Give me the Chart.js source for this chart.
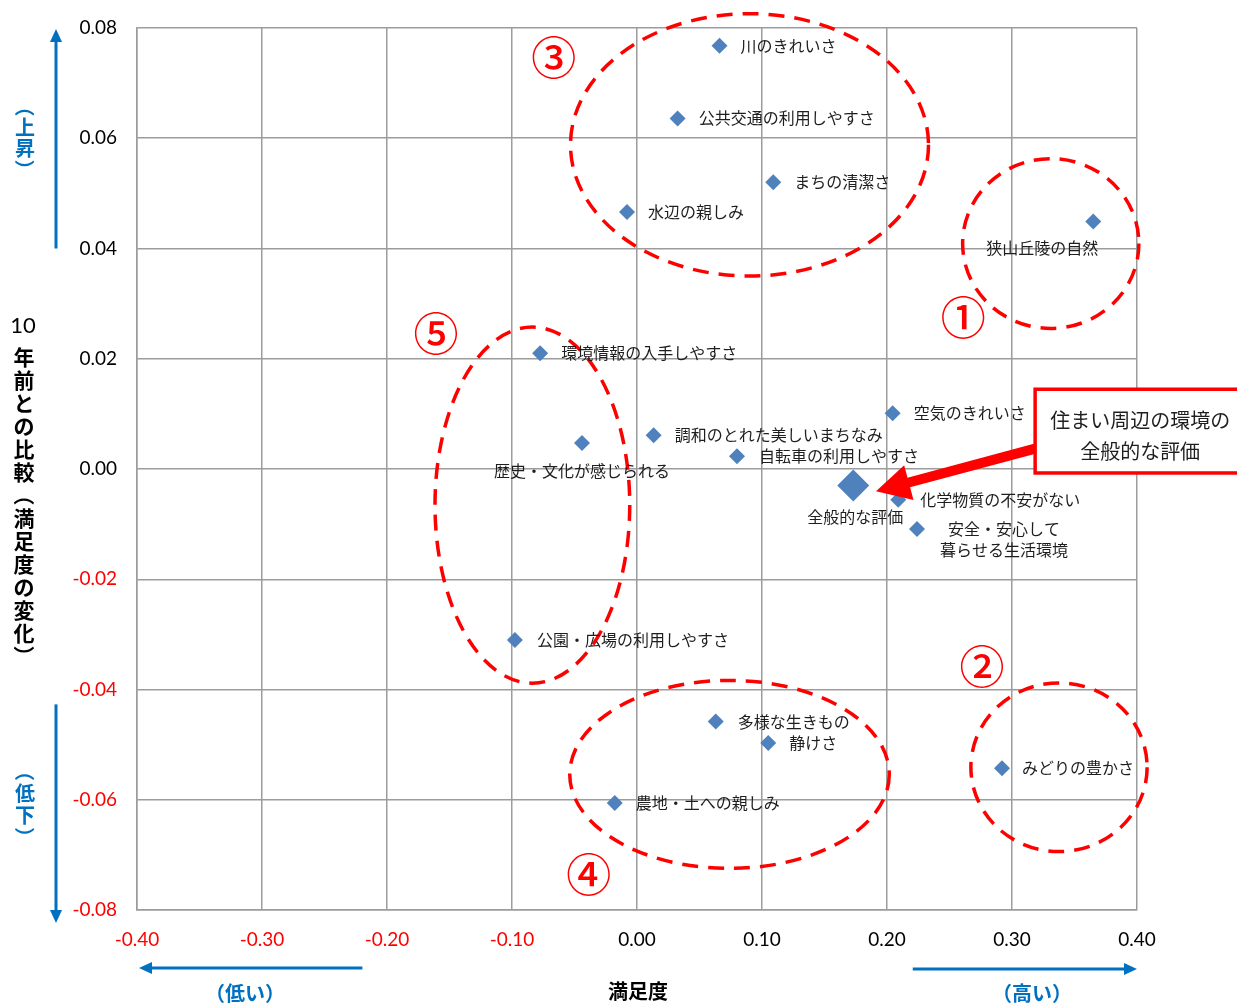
<!DOCTYPE html>
<html>
<head>
<meta charset="utf-8">
<script src="https://cdn.jsdelivr.net/npm/chart.js@4.4.1/dist/chart.umd.min.js"></script>
<style>
  html, body { margin: 0; padding: 0; background: #ffffff; }
  #wrap { width: 1237px; height: 1005px; position: relative; }
</style>
</head>
<body>
<div id="wrap"><canvas id="chart" width="1237" height="1005"></canvas></div>
<script>
// 環境項目ごとの満足度（x）と10年前との比較（y）
const itemNames = [
  '川のきれいさ',
  '公共交通の利用しやすさ',
  'まちの清潔さ',
  '水辺の親しみ',
  '狭山丘陵の自然',
  '環境情報の入手しやすさ',
  '空気のきれいさ',
  '調和のとれた美しいまちなみ',
  '歴史・文化が感じられる',
  '自転車の利用しやすさ',
  '化学物質の不安がない',
  '安全・安心して\n暮らせる生活環境',
  '公園・広場の利用しやすさ',
  '多様な生きもの',
  '静けさ',
  '農地・土への親しみ',
  'みどりの豊かさ'
];
const satisfaction = [
  0.066, 0.0325, 0.109, -0.008, 0.365, -0.0775, 0.2045, 0.0133, -0.044,
  0.080, 0.209, 0.224, -0.0977, 0.063, 0.105, -0.0178, 0.292
];
const changeVs10y = [
  0.0768, 0.0636, 0.052, 0.0466, 0.0449, 0.021, 0.0101, 0.0061, 0.0047,
  0.0023, -0.0056, -0.0109, -0.031, -0.0458, -0.0497, -0.0606, -0.0543
];

// 住まい周辺の環境の全般的な評価
const overallName = '全般的な評価';
const overallSatisfaction = [0.173];
const overallChange = [-0.003];

// 軸の目盛
const xTickLabels = ['-0.40', '-0.30', '-0.20', '-0.10', '0.00', '0.10', '0.20', '0.30', '0.40'];
const yTickLabels = ['-0.08', '-0.06', '-0.04', '-0.02', '0.00', '0.02', '0.04', '0.06', '0.08'];

// グループ番号と囲み（データ単位）
const groupMarks = ['①', '②', '③', '④', '⑤'];
const groupMarkX = [0.261, 0.276, -0.0665, -0.0386, -0.1608];
const groupMarkY = [0.0275, -0.0359, 0.0745, -0.0736, 0.0245];
const groupCenterX = [0.331, 0.3376, 0.090, 0.074, -0.0837];
const groupCenterY = [0.0409, -0.0541, 0.0588, -0.0554, -0.00655];
const groupRadiusX = [0.0705, 0.0705, 0.1432, 0.1278, 0.0779];
const groupRadiusY = [0.0154, 0.0153, 0.0238, 0.01705, 0.0323];

// ラベルの配置（点からのずれ, px）
const labelLayout = [
  { dx: 21, dy: 0, align: 'left' },
  { dx: 21, dy: 0, align: 'left' },
  { dx: 21, dy: 0, align: 'left' },
  { dx: 21, dy: 0, align: 'left' },
  { dx: -51, dy: 26, align: 'center' },
  { dx: 21, dy: 0, align: 'left' },
  { dx: 21, dy: 0, align: 'left' },
  { dx: 21, dy: 0, align: 'left' },
  { dx: 0, dy: 28, align: 'center' },
  { dx: 22, dy: 0, align: 'left' },
  { dx: 22, dy: 0, align: 'left' },
  { dx: 87, dy: 0, align: 'center' },
  { dx: 22, dy: 0, align: 'left' },
  { dx: 22, dy: 0, align: 'left' },
  { dx: 21, dy: 0, align: 'left' },
  { dx: 21, dy: 0, align: 'left' },
  { dx: 20, dy: 0, align: 'left' }
];
const overallLabelLayout = { dx: 2, dy: 31, align: 'center' };

const BLUE_MARK = '#4f81bd';
const AXIS_BLUE = '#0070c0';
const RED = '#ff0000';
const GRID = '#9c9c9c';
const JP = '"Noto Sans CJK JP", "Noto Sans", sans-serif';
const NUM = 'Lato, "Liberation Sans", sans-serif';

function drawArrow(ctx, x1, y1, x2, y2, width, headLen, headHalf, color) {
  const dx = x2 - x1, dy = y2 - y1;
  const len = Math.hypot(dx, dy);
  const ux = dx / len, uy = dy / len;
  const bx = x2 - ux * headLen, by = y2 - uy * headLen;
  ctx.save();
  ctx.strokeStyle = color;
  ctx.fillStyle = color;
  ctx.lineWidth = width;
  ctx.lineCap = 'butt';
  ctx.beginPath();
  ctx.moveTo(x1, y1);
  ctx.lineTo(bx + ux * 1, by + uy * 1);
  ctx.stroke();
  ctx.beginPath();
  ctx.moveTo(x2, y2);
  ctx.lineTo(bx - uy * headHalf, by + ux * headHalf);
  ctx.lineTo(bx + uy * headHalf, by - ux * headHalf);
  ctx.closePath();
  ctx.fill();
  ctx.restore();
}

function verticalText(ctx, str, x, yTop, step, font, color) {
  ctx.save();
  ctx.font = font;
  ctx.fillStyle = color;
  ctx.textAlign = 'center';
  ctx.textBaseline = 'middle';
  [...str].forEach((ch, i) => {
    const cy = yTop + step * i + step / 2;
    if (ch === '（' || ch === '）') {
      ctx.save();
      ctx.translate(x, cy);
      ctx.rotate(Math.PI / 2);
      ctx.fillText(ch, 0, 0);
      ctx.restore();
    } else {
      ctx.fillText(ch, x, cy);
    }
  });
  ctx.restore();
}

function drawLabel(ctx, text, px, py, layout) {
  ctx.textAlign = layout.align;
  const lines = text.split('\n');
  lines.forEach((line, i) => {
    ctx.fillText(line, px + layout.dx, py + layout.dy + i * 21);
  });
}

const decorations = {
  id: 'decorations',
  beforeDatasetsDraw(chart) {
    const { ctx, scales: { x, y } } = chart;
    // 点線の囲み
    ctx.save();
    ctx.strokeStyle = RED;
    ctx.lineWidth = 3.5;
    ctx.setLineDash([16, 10]);
    for (let i = 0; i < groupCenterX.length; i++) {
      const cx = x.getPixelForValue(groupCenterX[i]);
      const cy = y.getPixelForValue(groupCenterY[i]);
      const rx = Math.abs(x.getPixelForValue(groupCenterX[i] + groupRadiusX[i]) - cx);
      const ry = Math.abs(y.getPixelForValue(groupCenterY[i] + groupRadiusY[i]) - cy);
      ctx.beginPath();
      ctx.ellipse(cx, cy, rx, ry, 0, 0, Math.PI * 2);
      ctx.stroke();
    }
    ctx.restore();
  },
  afterDatasetsDraw(chart) {
    const { ctx, chartArea: area, scales: { x, y } } = chart;

    // 項目ラベル
    ctx.save();
    ctx.font = '16px ' + JP;
    ctx.fillStyle = '#1e1e1e';
    ctx.textBaseline = 'middle';
    const meta = chart.getDatasetMeta(0);
    meta.data.forEach((pt, i) => drawLabel(ctx, itemNames[i], pt.x, pt.y, labelLayout[i]));
    const om = chart.getDatasetMeta(1);
    om.data.forEach(pt => drawLabel(ctx, overallName, pt.x, pt.y, overallLabelLayout));
    ctx.restore();

    // グループ番号
    ctx.save();
    ctx.font = '500 45px ' + JP;
    ctx.fillStyle = RED;
    ctx.textAlign = 'center';
    ctx.textBaseline = 'middle';
    groupMarks.forEach((m, i) => {
      ctx.fillText(m, x.getPixelForValue(groupMarkX[i]), y.getPixelForValue(groupMarkY[i]));
    });
    ctx.restore();

    // 吹き出し
    const bl = x.getPixelForValue(0.3185);
    const bt = y.getPixelForValue(0.01447);
    const bb = y.getPixelForValue(-0.00072);
    const br = chart.width + 4;
    const tail = { x: bl, y: y.getPixelForValue(0.0037) };
    const tip = { x: x.getPixelForValue(0.1912), y: y.getPixelForValue(-0.00405) };
    drawArrow(ctx, tail.x, tail.y, tip.x, tip.y, 10, 34, 18, RED);
    ctx.save();
    ctx.fillStyle = '#ffffff';
    ctx.strokeStyle = RED;
    ctx.lineWidth = 3.5;
    ctx.fillRect(bl, bt, br - bl, bb - bt);
    ctx.strokeRect(bl, bt, br - bl, bb - bt);
    ctx.font = '20px ' + JP;
    ctx.fillStyle = '#1e1e1e';
    ctx.textAlign = 'center';
    ctx.textBaseline = 'middle';
    ctx.fillText('住まい周辺の環境の', bl + 105, bt + 31);
    ctx.fillText('全般的な評価', bl + 105, bt + 62);
    ctx.restore();

    // 軸の方向を示す矢印
    const ax = area.left - 81;
    drawArrow(ctx, ax, y.getPixelForValue(0.04), ax, area.top + 1, 3, 13, 6, AXIS_BLUE);
    drawArrow(ctx, ax, y.getPixelForValue(-0.0427), ax, area.bottom + 13, 3, 13, 6, AXIS_BLUE);
    const ay = area.bottom + 58;
    drawArrow(ctx, x.getPixelForValue(-0.2197), ay, area.left + 2, ay, 3, 13, 6, AXIS_BLUE);
    drawArrow(ctx, x.getPixelForValue(0.2206), ay + 1, area.right, ay + 1, 3, 13, 6, AXIS_BLUE);

    verticalText(ctx, '（上昇）', 25, 96, 21, 'bold 20px ' + JP, AXIS_BLUE);
    verticalText(ctx, '（低下）', 25, 760, 22, 'bold 20px ' + JP, AXIS_BLUE);

    ctx.save();
    ctx.textAlign = 'center';
    ctx.textBaseline = 'middle';
    ctx.font = 'bold 20px ' + JP;
    ctx.fillStyle = AXIS_BLUE;
    ctx.fillText('（低い）', 245, 993);
    ctx.fillText('（高い）', 1032, 993);
    ctx.fillStyle = '#000000';
    ctx.fillText('満足度', (area.left + area.right) / 2 + 1, 991);
    ctx.font = '22px ' + NUM;
    ctx.fillText('10', 23, 326);
    ctx.restore();

    verticalText(ctx, '年前との比較（満足度の変化）', 24, 345.5, 23, 'bold 21px ' + JP, '#000000');
  }
};

const tickColor = (c) => (c.tick && c.tick.value < -1e-9 ? RED : '#000000');

new Chart(document.getElementById('chart'), {
  type: 'scatter',
  data: {
    datasets: [
      {
        label: '環境項目',
        data: satisfaction.map((v, i) => ({ x: v, y: changeVs10y[i] })),
        pointStyle: 'rectRot',
        pointRadius: 8,
        pointHoverRadius: 8,
        backgroundColor: BLUE_MARK,
        borderColor: BLUE_MARK,
        borderWidth: 0
      },
      {
        label: overallName,
        data: overallSatisfaction.map((v, i) => ({ x: v, y: overallChange[i] })),
        pointStyle: 'rectRot',
        pointRadius: 16,
        pointHoverRadius: 16,
        backgroundColor: BLUE_MARK,
        borderColor: BLUE_MARK,
        borderWidth: 0
      }
    ]
  },
  options: {
    responsive: false,
    animation: false,
    events: [],
    layout: { padding: { top: 28, right: 100, bottom: 0, left: 0 } },
    plugins: {
      legend: { display: false },
      tooltip: { enabled: false }
    },
    scales: {
      x: {
        type: 'linear',
        min: -0.4,
        max: 0.4,
        ticks: {
          stepSize: 0.1,
          padding: 18,
          font: { family: NUM, size: 19 },
          color: tickColor,
          callback: (v, i) => xTickLabels[i]
        },
        grid: { color: GRID, lineWidth: 1.5, drawTicks: false },
        border: { color: GRID, width: 1.5 },
        afterFit(s) { s.height = 95; }
      },
      y: {
        type: 'linear',
        min: -0.08,
        max: 0.08,
        ticks: {
          stepSize: 0.02,
          padding: 20,
          font: { family: NUM, size: 19 },
          color: tickColor,
          callback: (v, i) => yTickLabels[i]
        },
        grid: { color: GRID, lineWidth: 1.5, drawTicks: false },
        border: { color: GRID, width: 1.5 },
        afterFit(s) {
          s.width = 137;
          s.paddingTop = 0;
          s.paddingBottom = 0;
        }
      }
    }
  },
  plugins: [decorations]
});
</script>
</body>
</html>
